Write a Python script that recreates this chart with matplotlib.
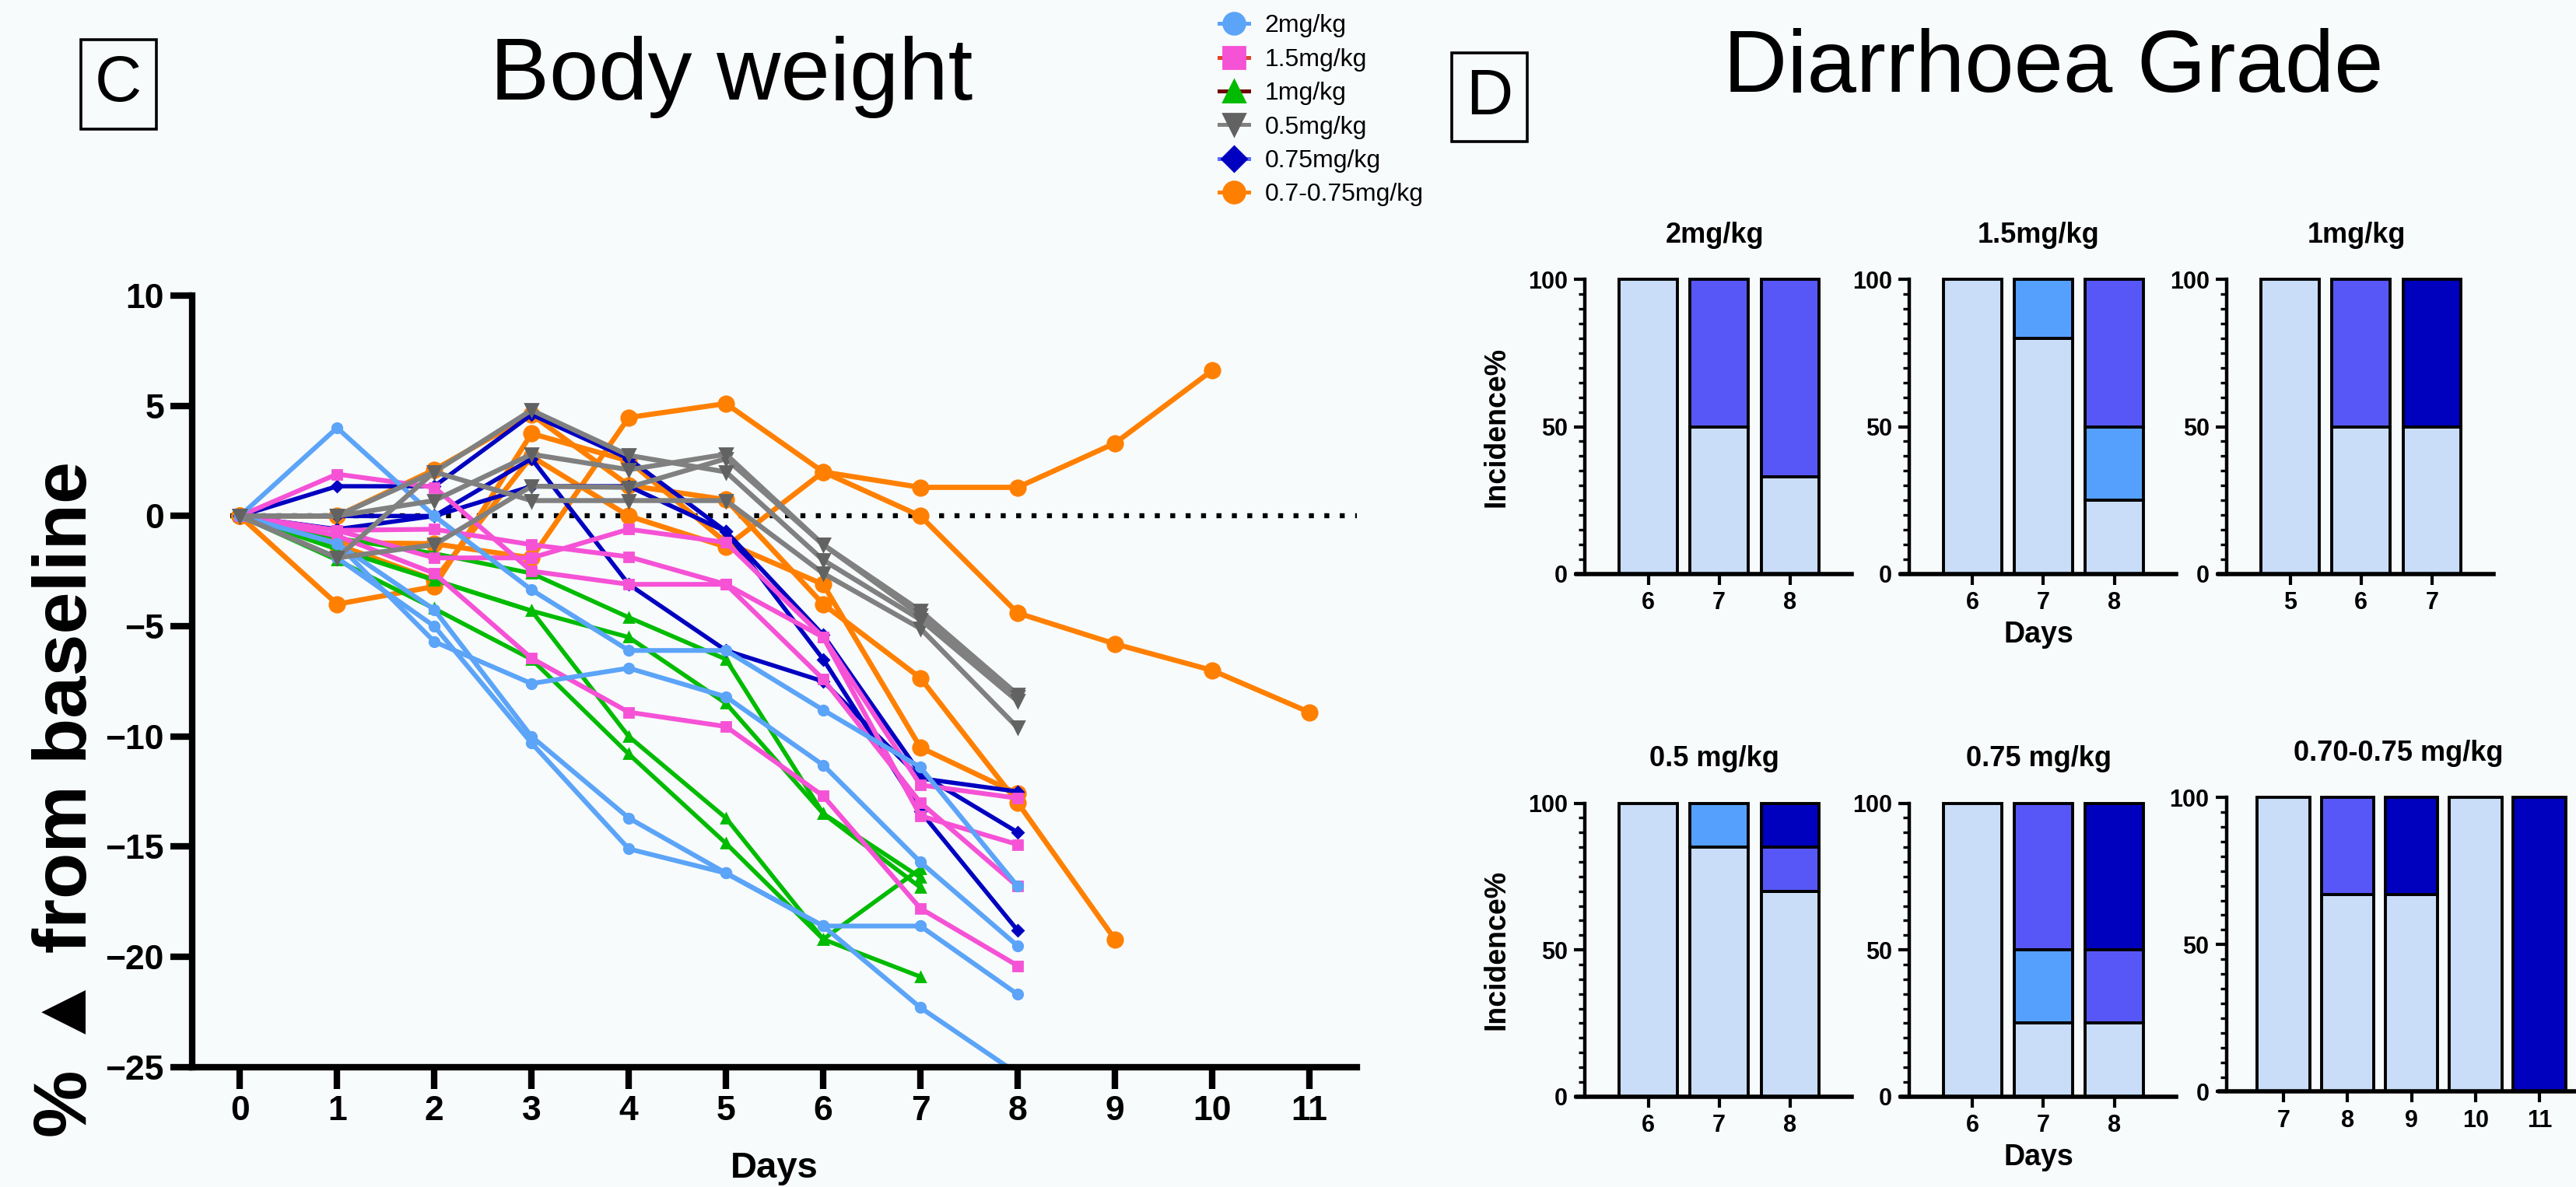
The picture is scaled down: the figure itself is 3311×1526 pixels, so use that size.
import matplotlib
matplotlib.use("Agg")
import matplotlib.pyplot as plt
from matplotlib.lines import Line2D
from matplotlib.ticker import MultipleLocator

plt.rcParams['font.family'] = ['Liberation Sans', 'DejaVu Sans']

BG = '#f8fbfc'

# ---- Panel C: body weight, % change from baseline per animal ----
days_c = list(range(12))

lb_1 = [0, 4.0, 0, -3.35, -6.1, -6.1, -8.8, -11.4, -16.8]
lb_2 = [0, -1.25, -5.7, -7.6, -6.9, -8.2, -11.3, -15.7, -19.5]
lb_3 = [0, -1.25, -4.25, -10.0, -13.7, -16.2, -18.6, -18.6, -21.7]
lb_4 = [0, -1.9, -5.0, -10.3, -15.1, -16.2, -18.6, -22.3, -25.3]

pk_1 = [0, 1.9, 1.3, -2.5, -3.1, -3.1, -7.4, -13.0, -16.8]
pk_2 = [0, -0.65, -0.6, -1.3, -1.85, -3.1, -5.5, -13.6, -14.9]
pk_3 = [0, -0.65, -1.9, -1.9, -0.6, -1.2, -5.5, -12.2, -12.8]
pk_4 = [0, -0.9, -2.6, -6.45, -8.9, -9.55, -12.7, -17.8, -20.4]

gr_1 = [0, -1.0, -1.7, -2.6, -4.6, -6.5, -13.5, -16.4]
gr_2 = [0, -1.5, -2.9, -4.3, -5.5, -8.5, -13.5, -16.85]
gr_3 = [0, -1.5, -2.9, -4.3, -10.0, -13.7, -19.2, -16.0]
gr_4 = [0, -2.0, -4.2, -6.5, -10.8, -14.85, -19.2, -20.9]

gy_1 = [0, -1.9, -1.3, 1.35, 1.3, 2.6, -1.3, -4.3, -8.1]
gy_2 = [0, -1.9, 2.0, 0.7, 0.7, 0.7, -2.6, -5.1, -9.6]
gy_3 = [0, 0, 0.7, 2.8, 2.1, 2.8, -1.3, -4.5, -8.2]
gy_4 = [0, 0, 2.0, 4.8, 2.75, 2.0, -2.0, -4.7, -8.4]

db_1 = [0, -0.6, 0, 2.6, -3.1, -6.1, -7.5, -11.9, -12.5]
db_2 = [0, 1.35, 1.35, 4.6, 2.6, -0.7, -5.4, -11.7, -14.35]
db_3 = [0, 0, 0, 1.35, 1.35, -0.7, -6.5, -13.4, -18.8]

or_1 = [0, -1.2, -1.26, -1.9, 4.47, 5.1, 2.0, 1.3, 1.3, 3.3, 6.6]
or_2 = [0, 0, 2.1, 4.6, 1.39, 0.74, -4.0, -7.35, -13.0, -19.2]
or_3 = [0, -4.0, -3.2, 3.74, 2.5, -1.2, -3.1, -10.5, -12.6]
or_4 = [0, -1.3, -2.9, 2.7, 0, -1.4, 2.0, 0, -4.4, -5.8, -7.0, -8.9]

# ---- Panel D: diarrhoea grade incidence (%) per grade, stacked ----
grade_colors = ['#c9ddf8', '#55a0fd', '#5757f7', '#0000bf']

d_2mg_days = [6, 7, 8]
d_2mg_g1 = [100, 50, 33]
d_2mg_g2 = [0, 0, 0]
d_2mg_g3 = [0, 50, 67]
d_2mg_g4 = [0, 0, 0]

d_15mg_days = [6, 7, 8]
d_15mg_g1 = [100, 80, 25]
d_15mg_g2 = [0, 20, 25]
d_15mg_g3 = [0, 0, 50]
d_15mg_g4 = [0, 0, 0]

d_1mg_days = [5, 6, 7]
d_1mg_g1 = [100, 50, 50]
d_1mg_g2 = [0, 0, 0]
d_1mg_g3 = [0, 50, 0]
d_1mg_g4 = [0, 0, 50]

d_05mg_days = [6, 7, 8]
d_05mg_g1 = [100, 85, 70]
d_05mg_g2 = [0, 15, 0]
d_05mg_g3 = [0, 0, 15]
d_05mg_g4 = [0, 0, 15]

d_075mg_days = [6, 7, 8]
d_075mg_g1 = [100, 25, 25]
d_075mg_g2 = [0, 25, 0]
d_075mg_g3 = [0, 50, 25]
d_075mg_g4 = [0, 0, 50]

d_07mg_days = [7, 8, 9, 10, 11]
d_07mg_g1 = [100, 67, 67, 100, 0]
d_07mg_g2 = [0, 0, 0, 0, 0]
d_07mg_g3 = [0, 33, 0, 0, 0]
d_07mg_g4 = [0, 0, 33, 0, 100]


fig = plt.figure(figsize=(16.56, 7.63), dpi=200, facecolor=BG)

# ---------------- Body weight ----------------
ax = fig.add_axes([0.0746, 0.101, 0.452, 0.650], facecolor=BG)

groups = [
    ([or_1, or_2, or_3, or_4], '#ff8000', '#ff8000', 'o', 7, 2.4),
    ([gr_1, gr_2, gr_3, gr_4], '#00bb00', '#00bb00', '^', 4.5, 2.0),
    ([db_1, db_2, db_3], '#0000c0', '#0000c0', 'D', 3.5, 2.0),
    ([pk_1, pk_2, pk_3, pk_4], '#f552d6', '#f552d6', 's', 4.5, 2.2),
    ([lb_1, lb_2, lb_3, lb_4], '#5ba4f8', '#5ba4f8', 'o', 4.5, 2.2),
    ([gy_1, gy_2, gy_3, gy_4], '#808080', '#626262', 'v', 6, 2.3),
]
for series, lc, mc, mk, ms, lw in groups:
    for s in series:
        ax.plot(days_c[:len(s)], s, color=lc, marker=mk, markersize=ms,
                markerfacecolor=mc, markeredgecolor=mc, lw=lw)

ax.axhline(0, xmin=0.033, xmax=1, color='black', lw=2.3, ls=(0, (1, 2.1)), zorder=0)

ax.set_xlim(-0.49, 11.49)
ax.set_ylim(-25, 10)
ax.set_xticks(days_c)
ax.set_yticks(range(-25, 11, 5))
for side in ['top', 'right']:
    ax.spines[side].set_visible(False)
for side in ['left', 'bottom']:
    ax.spines[side].set_linewidth(3)
ax.tick_params(axis='both', length=10, width=3, labelsize=16, pad=3)
for lbl in ax.get_xticklabels() + ax.get_yticklabels():
    lbl.set_fontweight('bold')
ax.set_xlabel('Days', fontsize=17, fontweight='bold', labelpad=11)
fig.text(0.026, 0.327, '% \u25b2 from baseline', rotation=90, fontsize=35,
         fontweight='bold', ha='center', va='center')

fig.text(0.284, 0.935, 'Body weight', fontsize=41, ha='center', va='center')
fig.text(0.797, 0.942, 'Diarrhoea Grade', fontsize=41, ha='center', va='center')
box = dict(boxstyle='square,pad=0.22', fc='none', ec='black', lw=1.3)
fig.text(0.046, 0.929, 'C', fontsize=30, ha='center', va='center', bbox=box)
fig.text(0.578, 0.918, 'D', fontsize=30, ha='center', va='center', bbox=box)

# legend
handles = [
    Line2D([], [], color='#5ba4f8', marker='o', ms=10, mfc='#5ba4f8', mec='#5ba4f8', lw=1.8),
    Line2D([], [], color='#e0442a', marker='s', ms=10, mfc='#f552d6', mec='#f552d6', lw=1.8),
    Line2D([], [], color='#6e0000', marker='^', ms=10, mfc='#00bb00', mec='#00bb00', lw=1.8),
    Line2D([], [], color='#808080', marker='v', ms=10, mfc='#626262', mec='#626262', lw=1.8),
    Line2D([], [], color='#5b6bff', marker='D', ms=8, mfc='#0000c0', mec='#0000c0', lw=1.8),
    Line2D([], [], color='#ff8000', marker='o', ms=10, mfc='#ff8000', mec='#ff8000', lw=1.8),
]
labels = ['2mg/kg', '1.5mg/kg', '1mg/kg', '0.5mg/kg', '0.75mg/kg', '0.7-0.75mg/kg']
fig.legend(handles, labels, loc='upper left', bbox_to_anchor=(0.473, 0.988),
           frameon=False, fontsize=11.5, handlelength=1.2, handletextpad=0.65,
           labelspacing=0.42, borderpad=0, borderaxespad=0)

# ---------------- Diarrhoea grade panels ----------------
panels = [
    ('2mg/kg', d_2mg_days, [d_2mg_g1, d_2mg_g2, d_2mg_g3, d_2mg_g4],
     [0.6121, 0.5166, 0.1066, 0.2479], True, False),
    ('1.5mg/kg', d_15mg_days, [d_15mg_g1, d_15mg_g2, d_15mg_g3, d_15mg_g4],
     [0.7379, 0.5166, 0.1066, 0.2479], False, True),
    ('1mg/kg', d_1mg_days, [d_1mg_g1, d_1mg_g2, d_1mg_g3, d_1mg_g4],
     [0.8612, 0.5166, 0.1066, 0.2479], False, False),
    ('0.5 mg/kg', d_05mg_days, [d_05mg_g1, d_05mg_g2, d_05mg_g3, d_05mg_g4],
     [0.6121, 0.0762, 0.1066, 0.2471], True, False),
    ('0.75 mg/kg', d_075mg_days, [d_075mg_g1, d_075mg_g2, d_075mg_g3, d_075mg_g4],
     [0.7379, 0.0762, 0.1066, 0.2471], False, True),
    ('0.70-0.75 mg/kg', d_07mg_days, [d_07mg_g1, d_07mg_g2, d_07mg_g3, d_07mg_g4],
     [0.8613, 0.0803, 0.1387, 0.2479], False, False),
]

for title, days, grades, rect, ylab, xlab in panels:
    bx = fig.add_axes(rect, facecolor=BG)
    pos = list(range(1, len(days) + 1))
    bottom = [0] * len(days)
    for g, col in zip(grades, grade_colors):
        for i, h in enumerate(g):
            if h > 0:
                bx.bar(pos[i], h, bottom=bottom[i], width=0.82, color=col,
                       edgecolor='black', linewidth=1.4, clip_on=False)
        bottom = [b + h for b, h in zip(bottom, g)]
    right = len(days) + 0.87 if len(days) == 3 else len(days) + 0.58
    bx.set_xlim(0, right)
    bx.set_ylim(0, 100)
    bx.spines['left'].set_position(('data', 0.11))
    for side in ['top', 'right']:
        bx.spines[side].set_visible(False)
    bx.spines['left'].set_linewidth(1.6)
    bx.spines['bottom'].set_linewidth(2.0)
    bx.set_xticks(pos)
    bx.set_xticklabels([str(d) for d in days])
    bx.set_yticks([0, 50, 100])
    bx.yaxis.set_minor_locator(MultipleLocator(5))
    bx.tick_params(axis='both', which='major', length=5, width=1.5, labelsize=11, pad=3)
    bx.tick_params(axis='y', which='minor', length=3, width=1.2)
    for lbl in bx.get_xticklabels() + bx.get_yticklabels():
        lbl.set_fontweight('bold')
    bx.set_title(title, fontsize=13, fontweight='bold', pad=17)
    if ylab:
        bx.set_ylabel('Incidence%', fontsize=13.5, fontweight='bold', labelpad=8)
    if xlab:
        bx.set_xlabel('Days', fontsize=13.5, fontweight='bold', labelpad=3)

fig.savefig('out.png', dpi=200, facecolor=BG)
